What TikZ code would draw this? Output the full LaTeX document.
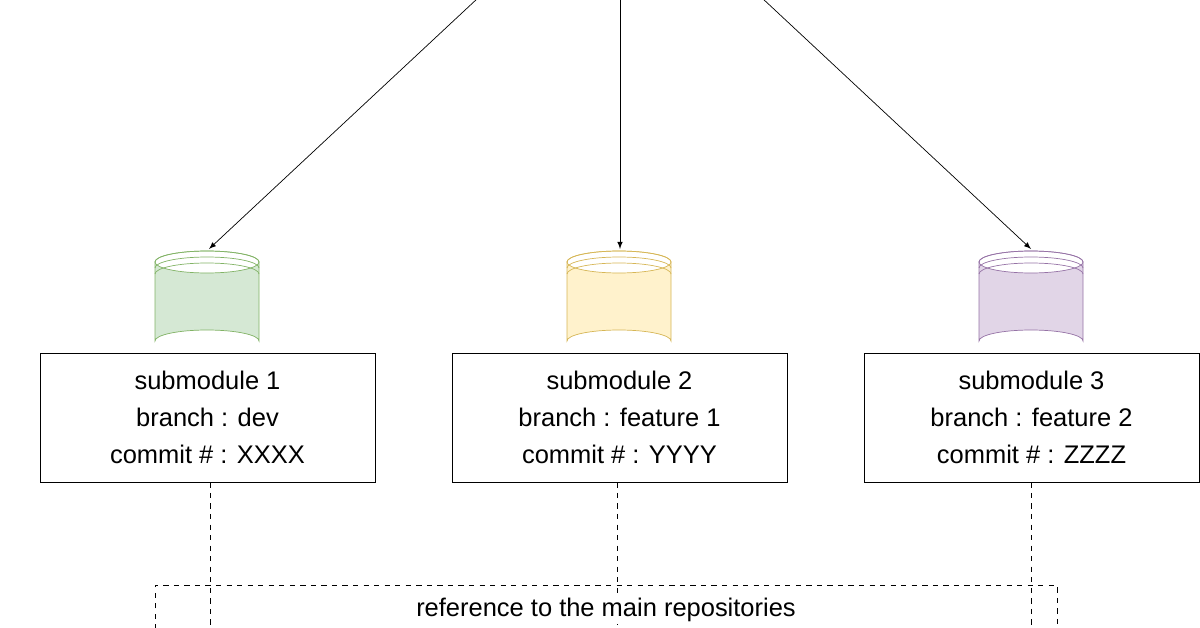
\documentclass[tikz,border=0pt]{standalone}
\usepackage{fontspec}
\setmainfont{Liberation Sans}
\definecolor{greenfill}{HTML}{D5E8D4}\definecolor{greenline}{HTML}{82B366}
\definecolor{yellowfill}{HTML}{FFF2CC}\definecolor{yellowline}{HTML}{D6B656}
\definecolor{purplefill}{HTML}{E1D5E7}\definecolor{purpleline}{HTML}{9673A6}
\tikzset{
  modbox/.style={draw, minimum width=6.7cm, minimum height=2.58cm, align=center,
    font=\fontsize{14.5}{21}\selectfont},
  link/.style={->, >=latex},
  refline/.style={dashed}
}
\newcommand{\repodb}[3]{% center x, fill, line
  \fill[#2] (#1-52,262) -- (#1-52,341) arc[start angle=180,end angle=360,x radius=52,y radius=11]
    -- (#1+52,262) arc[start angle=0,end angle=180,x radius=52,y radius=11];
  \draw[#3] (#1-52,262) -- (#1-52,341) arc[start angle=180,end angle=360,x radius=52,y radius=11]
    -- (#1+52,262);
  \draw[#3] (#1,262) ellipse[x radius=52,y radius=11];
  \draw[#3] (#1-52,262) arc[start angle=180,end angle=360,x radius=52,y radius=11]
    ++(0,6) arc[start angle=0,end angle=-180,x radius=52,y radius=11]
    ++(0,6) arc[start angle=180,end angle=360,x radius=52,y radius=11];
}
\begin{document}
\begin{tikzpicture}[x=0.02cm,y=-0.02cm]
    \useasboundingbox (0,0) rectangle (1200,628);
    \clip (0,0) rectangle (1200,628);

    \coordinate (top1) at (478,-2);
    \coordinate (top2) at (620,-2);
    \coordinate (top3) at (762,-2);
    \coordinate (db1) at (209,249);
    \coordinate (db2) at (620,249);
    \coordinate (db3) at (1031,249);

    \repodb{207}{greenfill}{greenline}
    \repodb{619}{yellowfill}{yellowline}
    \repodb{1031}{purplefill}{purpleline}

    \node[modbox] (mod1) at (207.5,417.5) {submodule 1\\branch : dev\\commit \# : XXXX};
    \node[modbox] (mod2) at (619.5,417.5) {submodule 2\\branch : feature 1\\commit \# : YYYY};
    \node[modbox] (mod3) at (1031.5,417.5) {submodule 3\\branch : feature 2\\commit \# : ZZZZ};

    \foreach \i in {1,2,3} \draw[link] (top\i) -- (db\i);

    \coordinate (end1) at (210,640);
    \coordinate (end2) at (617,640);
    \coordinate (end3) at (1031,640);
    \draw[refline] (mod1.south -| end1) -- (end1);
    \draw[refline] (mod2.south -| end2) -- (end2);
    \draw[refline] (mod3.south -| end3) -- (end3);

    \draw[refline] (155,640) -- (155,585) -- (1057,585) -- (1057,640);
    \node[font=\fontsize{14.5}{21}\selectfont, fill=white, inner sep=1pt] (reftext) at (606,610)
        {reference to the main repositories};
\end{tikzpicture}
\end{document}
